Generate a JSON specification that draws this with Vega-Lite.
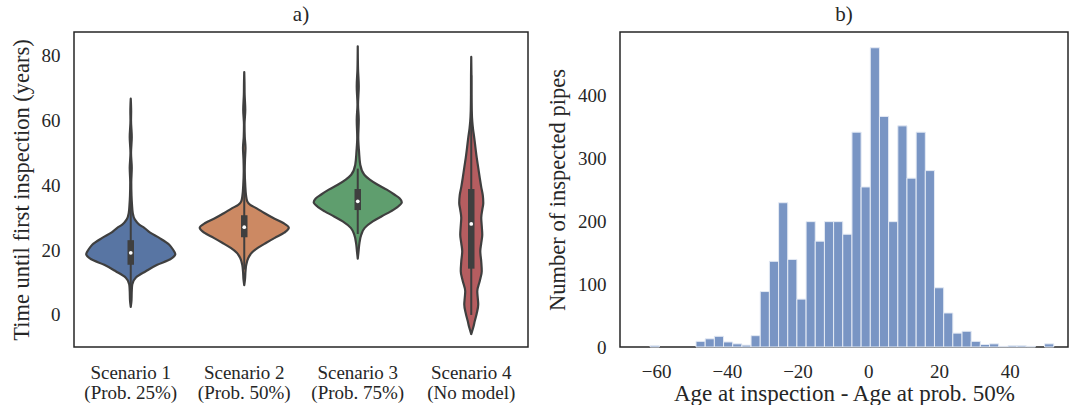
{
  "$schema": "https://vega.github.io/schema/vega-lite/v6.json",
  "background": "white",
  "padding": {"left": 9, "top": 3, "right": 0, "bottom": 0},
  "spacing": 92,
  "bounds": "flush",
  "config": {
    "font": "Liberation Serif",
    "view": {"stroke": "#262626", "strokeWidth": 1.5},
    "axis": {"domain": false, "ticks": false, "grid": false, "labelFont": "Liberation Serif", "labelFontSize": 19, "labelColor": "#262626", "titleFont": "Liberation Serif", "titleFontSize": 22.5, "titleFontWeight": "normal", "titleColor": "#262626", "labelPadding": 14, "titlePadding": 8},
    "title": {"font": "Liberation Serif", "fontSize": 21, "fontWeight": "normal", "color": "#262626", "offset": 7}
  },
  "datasets": {
    "violin": [
      {"s":"S1","v":2.5,"w":0},{"s":"S1","v":4.5,"w":0.013},{"s":"S1","v":7.4,"w":0.018},{"s":"S1","v":9.4,"w":0.026},{"s":"S1","v":11.5,"w":0.088},{"s":"S1","v":13.5,"w":0.265},{"s":"S1","v":15.5,"w":0.467},{"s":"S1","v":17.2,"w":0.697},{"s":"S1","v":18.8,"w":0.785},{"s":"S1","v":20.3,"w":0.741},{"s":"S1","v":21.7,"w":0.679},{"s":"S1","v":23.8,"w":0.503},{"s":"S1","v":25.5,"w":0.335},{"s":"S1","v":26.9,"w":0.238},{"s":"S1","v":27.9,"w":0.15},{"s":"S1","v":29.5,"w":0.071},{"s":"S1","v":31.5,"w":0.035},{"s":"S1","v":34,"w":0.022},{"s":"S1","v":37,"w":0.013},{"s":"S1","v":41,"w":0.009},{"s":"S1","v":45.4,"w":0.018},{"s":"S1","v":50,"w":0.005},{"s":"S1","v":55,"w":0.018},{"s":"S1","v":60,"w":0.005},{"s":"S1","v":63,"w":0.007},{"s":"S1","v":66.8,"w":0},
      {"s":"S2","v":9.2,"w":0},{"s":"S2","v":11,"w":0.013},{"s":"S2","v":13.5,"w":0.022},{"s":"S2","v":15.5,"w":0.035},{"s":"S2","v":17.6,"w":0.071},{"s":"S2","v":19.2,"w":0.132},{"s":"S2","v":20.7,"w":0.238},{"s":"S2","v":22.3,"w":0.388},{"s":"S2","v":23.8,"w":0.538},{"s":"S2","v":25.4,"w":0.705},{"s":"S2","v":26.9,"w":0.785},{"s":"S2","v":28.4,"w":0.688},{"s":"S2","v":30,"w":0.503},{"s":"S2","v":31.5,"w":0.353},{"s":"S2","v":33,"w":0.212},{"s":"S2","v":34,"w":0.106},{"s":"S2","v":35.1,"w":0.053},{"s":"S2","v":37,"w":0.031},{"s":"S2","v":40,"w":0.018},{"s":"S2","v":44.5,"w":0.009},{"s":"S2","v":48,"w":0.013},{"s":"S2","v":51.6,"w":0.022},{"s":"S2","v":55,"w":0.009},{"s":"S2","v":58.8,"w":0.005},{"s":"S2","v":63.4,"w":0.018},{"s":"S2","v":68,"w":0.007},{"s":"S2","v":72,"w":0.004},{"s":"S2","v":75,"w":0},
      {"s":"S3","v":17.4,"w":0},{"s":"S3","v":19.5,"w":0.013},{"s":"S3","v":21.7,"w":0.026},{"s":"S3","v":24.8,"w":0.062},{"s":"S3","v":26.9,"w":0.123},{"s":"S3","v":28.9,"w":0.265},{"s":"S3","v":30.5,"w":0.423},{"s":"S3","v":32,"w":0.582},{"s":"S3","v":33.4,"w":0.705},{"s":"S3","v":34.8,"w":0.776},{"s":"S3","v":36,"w":0.741},{"s":"S3","v":37.2,"w":0.644},{"s":"S3","v":38.7,"w":0.511},{"s":"S3","v":40.2,"w":0.353},{"s":"S3","v":41.8,"w":0.212},{"s":"S3","v":43.3,"w":0.115},{"s":"S3","v":46.4,"w":0.044},{"s":"S3","v":50.6,"w":0.022},{"s":"S3","v":54.7,"w":0.009},{"s":"S3","v":60.3,"w":0.018},{"s":"S3","v":65,"w":0.005},{"s":"S3","v":70.6,"w":0.018},{"s":"S3","v":76,"w":0.005},{"s":"S3","v":83,"w":0},
      {"s":"S4","v":-5.9,"w":0},{"s":"S4","v":-3.9,"w":0.035},{"s":"S4","v":-1.9,"w":0.062},{"s":"S4","v":0.5,"w":0.097},{"s":"S4","v":3.2,"w":0.123},{"s":"S4","v":5.2,"w":0.115},{"s":"S4","v":7.3,"w":0.106},{"s":"S4","v":10.5,"w":0.15},{"s":"S4","v":13.5,"w":0.185},{"s":"S4","v":16.5,"w":0.176},{"s":"S4","v":19.7,"w":0.159},{"s":"S4","v":22.2,"w":0.176},{"s":"S4","v":24.8,"w":0.194},{"s":"S4","v":27.5,"w":0.185},{"s":"S4","v":30,"w":0.176},{"s":"S4","v":32.5,"w":0.194},{"s":"S4","v":34.6,"w":0.212},{"s":"S4","v":37,"w":0.203},{"s":"S4","v":39.5,"w":0.176},{"s":"S4","v":42.3,"w":0.15},{"s":"S4","v":45.5,"w":0.123},{"s":"S4","v":48.5,"w":0.097},{"s":"S4","v":51.5,"w":0.075},{"s":"S4","v":54.7,"w":0.053},{"s":"S4","v":57.5,"w":0.031},{"s":"S4","v":59.8,"w":0.018},{"s":"S4","v":63,"w":0.009},{"s":"S4","v":68,"w":0.005},{"s":"S4","v":74,"w":0.004},{"s":"S4","v":79.7,"w":0}
    ],
    "box": [
      {"lab":"Scenario 1|(Prob. 25%)","lo":4.5,"q1":15.5,"med":19.2,"q3":23.1,"hi":34.5},
      {"lab":"Scenario 2|(Prob. 50%)","lo":14,"q1":24.0,"med":27.1,"q3":30.8,"hi":40.5},
      {"lab":"Scenario 3|(Prob. 75%)","lo":25,"q1":32.4,"med":35.1,"q3":38.9,"hi":45.2},
      {"lab":"Scenario 4|(No model)","lo":0,"q1":14.3,"med":28.1,"q3":38.9,"hi":74}
    ],
    "hist": [
      {"b0":-61.67,"b1":-59.08,"n":2},
      {"b0":-48.70,"b1":-46.11,"n":9},
      {"b0":-46.11,"b1":-43.51,"n":13},
      {"b0":-43.51,"b1":-40.92,"n":17},
      {"b0":-40.92,"b1":-38.33,"n":8},
      {"b0":-38.33,"b1":-35.73,"n":5},
      {"b0":-35.73,"b1":-33.14,"n":3},
      {"b0":-33.14,"b1":-30.54,"n":18},
      {"b0":-30.54,"b1":-27.95,"n":88},
      {"b0":-27.95,"b1":-25.35,"n":136},
      {"b0":-25.35,"b1":-22.76,"n":229},
      {"b0":-22.76,"b1":-20.17,"n":139},
      {"b0":-20.17,"b1":-17.57,"n":76},
      {"b0":-17.57,"b1":-14.98,"n":199},
      {"b0":-14.98,"b1":-12.38,"n":168},
      {"b0":-12.38,"b1":-9.79,"n":199},
      {"b0":-9.79,"b1":-7.20,"n":199},
      {"b0":-7.20,"b1":-4.60,"n":179},
      {"b0":-4.60,"b1":-2.01,"n":341},
      {"b0":-2.01,"b1":0.59,"n":254},
      {"b0":0.59,"b1":3.18,"n":475},
      {"b0":3.18,"b1":5.77,"n":366},
      {"b0":5.77,"b1":8.37,"n":199},
      {"b0":8.37,"b1":10.96,"n":351},
      {"b0":10.96,"b1":13.56,"n":268},
      {"b0":13.56,"b1":16.15,"n":341},
      {"b0":16.15,"b1":18.74,"n":280},
      {"b0":18.74,"b1":21.34,"n":94},
      {"b0":21.34,"b1":23.93,"n":54},
      {"b0":23.93,"b1":26.53,"n":22},
      {"b0":26.53,"b1":29.12,"n":25},
      {"b0":29.12,"b1":31.71,"n":9},
      {"b0":31.71,"b1":34.31,"n":4},
      {"b0":34.31,"b1":36.90,"n":5},
      {"b0":36.90,"b1":39.50,"n":1},
      {"b0":39.50,"b1":42.09,"n":2},
      {"b0":42.09,"b1":44.68,"n":2},
      {"b0":44.68,"b1":47.28,"n":1},
      {"b0":49.87,"b1":52.47,"n":5}
    ]
  },
  "hconcat": [
    {
      "width": 454,
      "height": 315,
      "title": {"text": "a)"},
      "layer": [
        {
          "data": {"name": "violin"},
          "transform": [{"filter": "datum.s === 'S1'"}],
          "mark": {"type": "area", "orient": "horizontal", "interpolate": "monotone", "color": "#5875a3", "stroke": "#3f3f3f", "strokeWidth": 2.2, "strokeJoin": "round"},
          "encoding": {
            "x": {"field": "w", "type": "quantitative", "stack": "center", "scale": {"domain": [-0.1075, 3.8925], "nice": false, "zero": false}, "axis": null},
            "y": {"field": "v", "type": "quantitative", "scale": {"domain": [-9.9, 87.4], "nice": false, "zero": false}, "axis": {"title": "Time until first inspection (years)", "values": [0, 20, 40, 60, 80]}}
          }
        },
        {
          "data": {"name": "violin"},
          "transform": [{"filter": "datum.s === 'S2'"}],
          "mark": {"type": "area", "orient": "horizontal", "interpolate": "monotone", "color": "#cc8963", "stroke": "#3f3f3f", "strokeWidth": 2.2, "strokeJoin": "round"},
          "encoding": {
            "x": {"field": "w", "type": "quantitative", "stack": "center", "scale": {"domain": [-1.1075, 2.8925], "nice": false, "zero": false}, "axis": null},
            "y": {"field": "v", "type": "quantitative", "scale": {"domain": [-9.9, 87.4], "nice": false, "zero": false}, "axis": {"title": "Time until first inspection (years)", "values": [0, 20, 40, 60, 80]}}
          }
        },
        {
          "data": {"name": "violin"},
          "transform": [{"filter": "datum.s === 'S3'"}],
          "mark": {"type": "area", "orient": "horizontal", "interpolate": "monotone", "color": "#5f9e6e", "stroke": "#3f3f3f", "strokeWidth": 2.2, "strokeJoin": "round"},
          "encoding": {
            "x": {"field": "w", "type": "quantitative", "stack": "center", "scale": {"domain": [-2.112, 1.888], "nice": false, "zero": false}, "axis": null},
            "y": {"field": "v", "type": "quantitative", "scale": {"domain": [-9.9, 87.4], "nice": false, "zero": false}, "axis": {"title": "Time until first inspection (years)", "values": [0, 20, 40, 60, 80]}}
          }
        },
        {
          "data": {"name": "violin"},
          "transform": [{"filter": "datum.s === 'S4'"}],
          "mark": {"type": "area", "orient": "horizontal", "interpolate": "monotone", "color": "#b55d60", "stroke": "#3f3f3f", "strokeWidth": 2.2, "strokeJoin": "round"},
          "encoding": {
            "x": {"field": "w", "type": "quantitative", "stack": "center", "scale": {"domain": [-3.394, 0.606], "nice": false, "zero": false}, "axis": null},
            "y": {"field": "v", "type": "quantitative", "scale": {"domain": [-9.9, 87.4], "nice": false, "zero": false}, "axis": {"title": "Time until first inspection (years)", "values": [0, 20, 40, 60, 80]}}
          }
        },
        {
          "data": {"name": "box"},
          "encoding": {
            "x": {"field": "lab", "type": "nominal", "sort": null, "scale": {"paddingInner": 0, "paddingOuter": 0}, "axis": {"title": null, "labelAngle": 0, "labelExpr": "split(datum.label, '|')", "labelLineHeight": 20, "labelPadding": 16, "labelBaseline": "top"}}
          },
          "layer": [
            {
              "mark": {"type": "rule", "color": "#3f3f3f", "strokeWidth": 2},
              "encoding": {
                "y": {"field": "lo", "type": "quantitative", "scale": {"domain": [-9.9, 87.4], "nice": false, "zero": false}, "axis": {"title": "Time until first inspection (years)", "values": [0, 20, 40, 60, 80]}},
                "y2": {"field": "hi"}
              }
            },
            {
              "mark": {"type": "rule", "color": "#3f3f3f", "strokeWidth": 6.5},
              "encoding": {
                "y": {"field": "q1", "type": "quantitative", "scale": {"domain": [-9.9, 87.4], "nice": false, "zero": false}, "axis": {"title": "Time until first inspection (years)", "values": [0, 20, 40, 60, 80]}},
                "y2": {"field": "q3"}
              }
            },
            {
              "mark": {"type": "point", "filled": true, "color": "white", "opacity": 1, "size": 14},
              "encoding": {
                "y": {"field": "med", "type": "quantitative", "scale": {"domain": [-9.9, 87.4], "nice": false, "zero": false}, "axis": {"title": "Time until first inspection (years)", "values": [0, 20, 40, 60, 80]}}
              }
            }
          ]
        }
      ],
      "resolve": {"scale": {"x": "independent"}}
    },
    {
      "width": 448,
      "height": 315,
      "title": {"text": "b)"},
      "data": {"name": "hist"},
      "mark": {"type": "bar", "color": "#7995c4", "stroke": "#e4eaf4", "strokeWidth": 1},
      "encoding": {
        "x": {"field": "b0", "type": "quantitative", "scale": {"domain": [-70.2, 56.5], "nice": false, "zero": false}, "axis": {"title": "Age at inspection - Age at prob. 50%", "values": [-60, -40, -20, 0, 20, 40], "labelPadding": 15, "titlePadding": 1, "titleFontSize": 23}},
        "x2": {"field": "b1"},
        "y": {"field": "n", "type": "quantitative", "scale": {"domain": [0, 500], "nice": false}, "axis": {"title": "Number of inspected pipes", "values": [0, 100, 200, 300, 400]}},
        "y2": {"datum": 0}
      }
    }
  ]
}
